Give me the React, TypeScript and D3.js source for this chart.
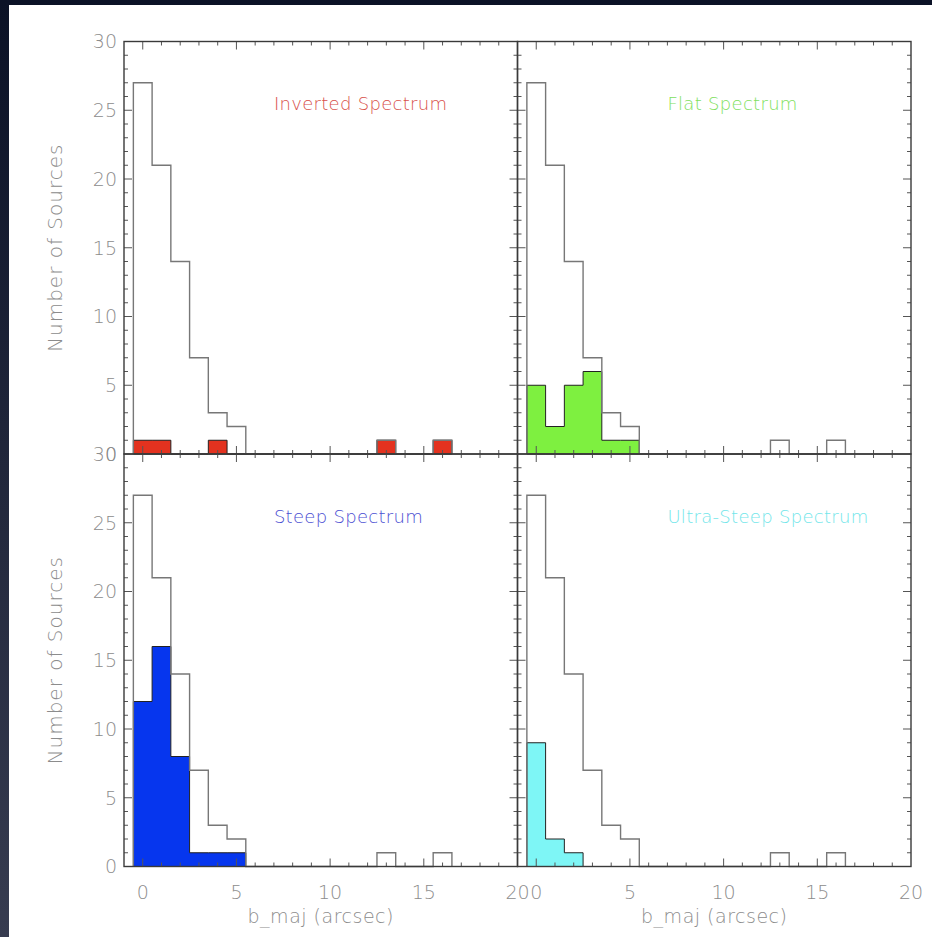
import React from "react";
import * as d3 from "d3";

// histogram counts, one bin per arcsec, bins centred on 0, 1, 2, ...
const allSources = [27, 21, 14, 7, 3, 2, 0, 0, 0, 0, 0, 0, 0, 1, 0, 0, 1];
const inverted = [1, 1, 0, 0, 1, 0, 0, 0, 0, 0, 0, 0, 0, 1, 0, 0, 1];
const flat = [5, 2, 5, 6, 1, 1];
const steep = [12, 16, 8, 1, 1, 1];
const ultraSteep = [9, 2, 1];

const panelNames = ["Inverted Spectrum", "Flat Spectrum", "Steep Spectrum", "Ultra-Steep Spectrum"];
const panelSeries = [inverted, flat, steep, ultraSteep];
const fillColors = ["#e3321f", "#7ef040", "#0636ee", "#7ef6f6"];
const titleColors = ["#d8504a", "#7ee05c", "#4a4ed2", "#72e6ea"];

const xTickLabels = [0, 5, 10, 15, 20];
const yTickLabels = [0, 5, 10, 15, 20, 25, 30];
const xTitle = "b_maj (arcsec)";
const yTitle = "Number of Sources";

const W = 932;
const H = 937;
const left = 124;
const top = 41.5;
const pw = 393.5;
const ph = 412.5;
const font = "'DejaVu Sans', sans-serif";
const grey = "#8c8c8c";

// step outline points for a histogram with unit bins
const stepPoints = (vals: number[]): [number, number][] => {
  const pts: [number, number][] = [[-0.5, 0]];
  vals.forEach((v, i) => pts.push([i - 0.5, v]));
  pts.push([vals.length - 0.5, 0]);
  return pts;
};

function Panel({ idx }: { idx: number }) {
  const col = idx % 2;
  const row = Math.floor(idx / 2);
  const x0 = left + col * pw;
  const y0 = top + row * ph;

  const x = d3.scaleLinear().domain([-1, 20]).range([x0, x0 + pw]);
  const y = d3.scaleLinear().domain([0, 30]).range([y0 + ph, y0]);

  const line = d3
    .line<[number, number]>()
    .x((d) => x(d[0]))
    .y((d) => y(d[1]))
    .curve(d3.curveStepAfter);
  const area = d3
    .area<[number, number]>()
    .x((d) => x(d[0]))
    .y0(y(0))
    .y1((d) => y(d[1]))
    .curve(d3.curveStepAfter);

  const series = panelSeries[idx];
  const xMinor = d3.range(0, 20);
  const yMinor = d3.range(1, 30);

  return (
    <g>
      <path d={area(stepPoints(series)) || ""} fill={fillColors[idx]} stroke="#222" strokeWidth={1} />
      <path d={line(stepPoints(allSources)) || ""} fill="none" stroke="#777" strokeWidth={1.4} />

      {/* x ticks, bottom and top, inward */}
      {xMinor.map((t) => {
        const len = t % 5 === 0 ? 8 : 4;
        return (
          <g key={"x" + t} stroke="#555" strokeWidth={1}>
            <line x1={x(t)} x2={x(t)} y1={y(0)} y2={y(0) - len} />
            <line x1={x(t)} x2={x(t)} y1={y(30)} y2={y(30) + len} />
          </g>
        );
      })}
      {/* y ticks, left and right, inward */}
      {yMinor.map((t) => {
        const len = t % 5 === 0 ? 8 : 4;
        return (
          <g key={"y" + t} stroke="#555" strokeWidth={1}>
            <line x1={x(-1)} x2={x(-1) + len} y1={y(t)} y2={y(t)} />
            <line x1={x(20)} x2={x(20) - len} y1={y(t)} y2={y(t)} />
          </g>
        );
      })}
      <rect x={x(-1)} y={y(30)} width={pw} height={ph} fill="none" stroke="#3a3a3a" strokeWidth={1.4} />

      {col === 0 &&
        yTickLabels.map((t) => (
          <text
            key={"yl" + t}
            x={x(-1) - 7}
            y={y(t)}
            dy="0.36em"
            textAnchor="end"
            fontSize={19}
            fill={grey}
          >
            {t}
          </text>
        ))}
      {row === 1 &&
        xTickLabels.map((t) => (
          <text key={"xl" + t} x={x(t)} y={y(0) + 32} textAnchor="middle" fontSize={19} fill={grey}>
            {t}
          </text>
        ))}
      {row === 1 && (
        <text
          x={x0 + pw / 2}
          y={y(0) + 56}
          textAnchor="middle"
          fontSize={19}
          letterSpacing={0.5}
          fill={grey}
        >
          {xTitle}
        </text>
      )}
      {col === 0 && (
        <text
          transform={`translate(62,${y0 + ph / 2}) rotate(-90)`}
          textAnchor="middle"
          fontSize={20}
          letterSpacing={1}
          fill={grey}
        >
          {yTitle}
        </text>
      )}
      <text x={x(7)} y={y(25)} fontSize={18} letterSpacing={0.3} fill={titleColors[idx]}>
        {panelNames[idx]}
      </text>
    </g>
  );
}

export default function App() {
  return (
    <svg
      width={W}
      height={H}
      style={{ position: "absolute", left: 0, top: 0, display: "block" }}
      fontFamily={font}
      fontWeight={200}
    >
      <defs>
        <linearGradient id="bg" x1="0" y1="0" x2="0" y2="1">
          <stop offset="0" stopColor="#0b1226" />
          <stop offset="1" stopColor="#373c50" />
        </linearGradient>
      </defs>
      <rect width={W} height={H} fill="url(#bg)" />
      <rect x={9} y={5} width={W - 9} height={H - 5} fill="#fff" />
      {[0, 1, 2, 3].map((i) => (
        <Panel key={i} idx={i} />
      ))}
    </svg>
  );
}
